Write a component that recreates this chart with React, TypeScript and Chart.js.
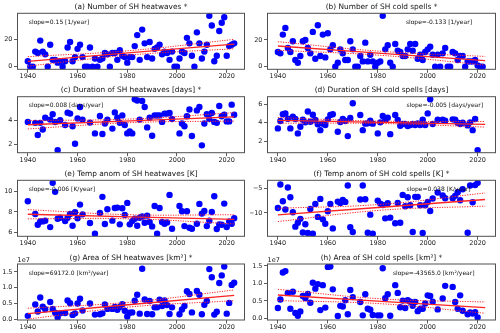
import React, { useEffect, useRef } from 'react';
import { Chart, registerables } from 'chart.js';
Chart.register(...registerables);

const years = [
  1940, 1941, 1942, 1943, 1944, 1945, 1946, 1947, 1948, 1949,
  1950, 1951, 1952, 1953, 1954, 1955, 1956, 1957, 1958, 1959,
  1960, 1961, 1962, 1963, 1964, 1965, 1966, 1967, 1968, 1969,
  1970, 1971, 1972, 1973, 1974, 1975, 1976, 1977, 1978, 1979,
  1980, 1981, 1982, 1983, 1984, 1985, 1986, 1987, 1988, 1989,
  1990, 1991, 1992, 1993, 1994, 1995, 1996, 1997, 1998, 1999,
  2000, 2001, 2002, 2003, 2004, 2005, 2006, 2007, 2008, 2009,
  2010, 2011, 2012, 2013, 2014, 2015, 2016, 2017, 2018, 2019,
  2020, 2021, 2022, 2023,
];
const xTicks = [1940, 1960, 1980, 2000, 2020];
const trendYears = [1940, 1981.5, 2023];

const heatCount = [
  4, 0, 0, 11, 10, 19, 11, 9, 0, 16,
  5, 5, 3, 4, 0, 4, 14, 18, 4, 7,
  13, 16, 7, 0, 0, 14, 0, 6, 0, 5,
  6, 10, 9, 0, 10, 10, 5, 12, 8, 7,
  3, 7, 7, 15, 23, 5, 27, 17, 7, 18,
  6, 13, 14, 16, 9, 11, 10, 5, 11, 0,
  0, 6, 11, 10, 21, 17, 8, 0, 25, 17,
  6, 11, 16, 37, 30, 4, 8, 26, 32, 36,
  8, 15, 16, 17,
];
const coldCount = [
  11, 10, 24, 29, 14, 11, 19, 5, 3, 8,
  19, 20, 14, 10, 26, 6, 31, 8, 24, 7,
  25, 13, 16, 0, 3, 13, 10, 5, 5, 19,
  13, 0, 0, 8, 4, 18, 4, 9, 4, 0,
  3, 4, 38, 13, 16, 3, 0, 17, 12, 11,
  8, 8, 13, 17, 12, 17, 6, 9, 5, 11,
  13, 15, 9, 0, 9, 0, 10, 14, 0, 0,
  11, 10, 5, 8, 8, 0, 4, 4, 4, 5,
  1, 0, 0, null,
];
const heatDuration = [
  3.86, null, null, 3.78, 2.77, 3.78, 3.23, 4.2, null, 4.05,
  4.5, 3.85, 1.5, 4.0, null, 3.6, 4.63, 4.55, 3.5, 2.03,
  4.15, 5.1, 4.05, null, null, 3.8, null, 2.9, null, 4.35,
  2.85, 3.73, 4.05, null, 3.3, 4.65, 4.2, 3.78, 4.4, 3.6,
  2.9, 3.07, 2.9, 5.75, 5.65, 4.05, 5.6, 5.1, 3.4, 4.2,
  2.7, 4.4, 4.4, 4.4, 3.86, 4.55, 4.55, 4.6, 4.1, null,
  null, 2.9, 3.73, 3.5, 4.33, 4.9, 2.68, null, 4.82, 5.1,
  1.9, 3.73, 4.5, 4.1, 4.6, 3.86, 3.78, 5.18, 4.33, 4.45,
  3.9, 3.9, 5.3, 4.45,
];
const coldDuration = [
  3.39, 4.18, 4.9, 5.0, 4.43, 3.39, 4.65, 4.4, 2.85, 3.57,
  4.32, 4.04, 5.2, 4.1, 4.86, 4.29, 3.82, 3.2, 3.9, 3.75,
  4.36, 4.83, 4.9, null, 3.03, 4.07, 4.4, 4.18, 2.56, 4.5,
  6.09, null, null, 4.83, 3.2, 3.9, 3.93, 4.22, 3.9, null,
  2.85, 4.04, 4.72, 4.29, 4.54, 2.77, null, 4.83, 4.29, 3.68,
  3.86, 3.86, 3.64, 3.75, 3.86, 3.75, 3.93, 3.75, 4.32, 3.75,
  5.0, 6.52, 3.86, null, 4.32, null, 4.32, 4.22, null, null,
  4.36, 4.32, 4.0, 3.86, 4.0, null, 3.71, 4.04, 3.2, 4.4,
  1.05, null, null, null,
];
const heatTemp = [
  9.05, null, null, 7.8, 6.75, 7.08, 7.08, 7.15, null, 6.52,
  10.85, 9.97, 7.34, 7.44, null, 7.11, 7.44, 7.8, 6.66, 7.97,
  7.38, 8.72, 7.77, null, null, 6.92, null, 5.87, null, 7.9,
  9.48, 6.82, 8.26, null, 7.15, 8.39, 8.43, 6.79, 8.36, 7.7,
  8.89, 6.79, 7.11, 7.34, 6.66, 7.44, 7.57, 6.95, 7.64, 7.02,
  6.59, 8.59, 5.87, 8.39, 7.02, 6.85, 6.98, 9.67, 6.36, null,
  null, 8.59, 8.07, 6.62, 8.07, 6.46, 6.36, null, 6.85, 8.79,
  7.84, 8.1, 6.62, 7.15, 8.0, 9.54, 6.33, 6.79, 6.75, 8.82,
  6.52, 7.08, 6.85, 7.38,
];
const coldTemp = [
  -8.97, -4.18, -7.6, -9.3, -4.8, -6.78, -9.86, -12.8, -12.0, -11.2,
  -14.0, -12.3, -14.1, -9.18, -14.25, -8.15, -10.8, -7.12, -11.3, -12.2,
  -9.66, -8.15, -13.15, null, -7.67, -7.95, -7.33, -7.74, -4.38, -12.9,
  -13.9, null, null, -7.26, -4.38, -7.19, -14.04, -10.34, -14.25, null,
  -7.47, -8.08, -8.36, -11.1, -8.0, -10.96, null, -12.1, -7.95, -12.0,
  -6.3, -8.63, -6.78, -8.42, -13.9, -6.7, -6.7, -8.42, -14.1, -8.42,
  -7.74, -9.6, -7.05, null, -5.82, null, -6.44, -6.99, null, null,
  -6.99, -6.5, -5.75, -7.4, -5.14, null, -14.04, -4.38, -7.8, -4.3,
  -3.84, null, null, null,
];
// areas in units of 1e7 km²
const heatArea = [
  0.11, null, null, 0.47, 0.25, 0.69, 0.4, 0.32, null, 0.55,
  0.33, 0.21, 0.06, 0.19, null, 0.2, 0.6, 0.51, 0.14, 0.19,
  0.5, 0.65, 0.28, null, null, 0.5, null, 0.15, null, 0.16,
  0.19, 0.47, 0.33, null, 0.33, 0.39, 0.3, 0.39, 0.48, 0.27,
  0.09, 0.21, 0.22, 0.59, 0.78, 0.18, 1.6, 0.63, 0.17, 0.58,
  0.16, 0.38, 0.38, 0.62, 0.42, 0.6, 0.45, 0.17, 0.38, null,
  null, 0.16, 0.31, 0.42, 0.89, 0.8, 0.22, null, 0.9, 0.78,
  0.16, 0.46, 0.58, 1.59, 1.33, 0.15, 0.24, 1.15, 1.39, 1.67,
  0.18, 0.52, 1.09, 1.16,
];
const coldArea = [
  0.3, 0.54, 1.31, 1.35, 0.73, 0.28, 0.76, 0.16, 0.08, 0.2,
  0.64, 0.58, 0.7, 0.45, 1.02, 0.85, 0.98, 0.24, 0.95, 0.31,
  1.47, 1.48, 0.83, null, 0.07, 0.36, 0.34, 0.52, 0.12, 0.81,
  0.61, null, null, 0.47, 0.09, 0.69, 0.28, 0.25, 0.1, null,
  0.09, 0.09, 1.43, 0.58, 0.69, 0.08, null, 0.95, 0.73, 0.32,
  0.51, 0.3, 0.52, 0.48, 0.36, 0.47, 0.21, 0.28, 0.28, 0.43,
  0.66, 0.64, 0.48, null, 0.26, null, 0.57, 0.93, null, null,
  0.9, 0.47, 0.28, 0.66, 0.22, null, 0.12, 0.17, 0.14, 0.18,
  0.03, null, null, null,
];

// trend line and confidence bounds at trendYears
const fitA = [3.9, 10.2, 16.5], upA = [7.3, 11.8, 19.9], loA = [0.5, 8.6, 13.1];
const fitB = [15.5, 10.0, 4.5], upB = [18.7, 11.5, 7.7], loB = [12.3, 8.5, 1.3];
const fitC = [3.62, 3.95, 4.28], upC = [3.97, 4.1, 4.63], loC = [3.27, 3.8, 3.93];
const fitD = [4.25, 4.04, 3.83], upD = [4.55, 4.17, 4.13], loD = [3.95, 3.91, 3.53];
const fitE = [7.78, 7.53, 7.28], upE = [8.23, 7.73, 7.73], loE = [7.33, 7.33, 6.83];
const fitF = [-10.4, -8.83, -7.25], upF = [-9.05, -8.23, -5.9], loF = [-11.75, -9.43, -8.6];
const fitG = [0.18, 0.47, 0.76], upG = [0.35, 0.545, 0.93], loG = [0.01, 0.395, 0.59];
const fitH = [0.67, 0.49, 0.31], upH = [0.83, 0.56, 0.47], loH = [0.51, 0.42, 0.15];

const ticksA = [0, 20];
const ticksC = [2, 4];
const ticksD = [2, 4, 6];
const ticksE = [6, 8, 10];
const ticksF = [-10, -5];
const ticksArea = [0, 0.5, 1.0, 1.5];

type Spec = {
  title: string; values: (number | null)[]; yTicks: number[]; decimals: number;
  slope: string; slopeX: number; fit: number[]; up: number[]; lo: number[];
  offset?: string; col: number; row: number;
};

const panels: Spec[] = [
  { title: '(a) Number of SH heatwaves *', values: heatCount, yTicks: ticksA, decimals: 0, slope: 'slope=0.15 [1/year]', slopeX: 0.05, fit: fitA, up: upA, lo: loA, col: 0, row: 0 },
  { title: '(b) Number of SH cold spells *', values: coldCount, yTicks: ticksA, decimals: 0, slope: 'slope=-0.133 [1/year]', slopeX: 0.607, fit: fitB, up: upB, lo: loB, col: 1, row: 0 },
  { title: '(c) Duration of SH heatwaves [days] *', values: heatDuration, yTicks: ticksC, decimals: 0, slope: 'slope=0.008 [days/year]', slopeX: 0.05, fit: fitC, up: upC, lo: loC, col: 0, row: 1 },
  { title: '(d) Duration of SH cold spells [days]', values: coldDuration, yTicks: ticksD, decimals: 0, slope: 'slope=-0.005 [days/year]', slopeX: 0.61, fit: fitD, up: upD, lo: loD, col: 1, row: 1 },
  { title: '(e) Temp anom of SH heatwaves [K]', values: heatTemp, yTicks: ticksE, decimals: 0, slope: 'slope=-0.006 [K/year]', slopeX: 0.05, fit: fitE, up: upE, lo: loE, col: 0, row: 2 },
  { title: '(f) Temp anom of SH cold spells [K] *', values: coldTemp, yTicks: ticksF, decimals: 0, slope: 'slope=0.038 [K/year]', slopeX: 0.61, fit: fitF, up: upF, lo: loF, col: 1, row: 2 },
  { title: '(g) Area of SH heatwaves [km²] *', values: heatArea, yTicks: ticksArea, decimals: 1, slope: 'slope=69172.0 [km²/year]', slopeX: 0.05, fit: fitG, up: upG, lo: loG, offset: '1e7', col: 0, row: 3 },
  { title: '(h) Area of SH cold spells [km²] *', values: coldArea, yTicks: ticksArea, decimals: 1, slope: 'slope=-43565.0 [km²/year]', slopeX: 0.55, fit: fitH, up: upH, lo: loH, offset: '1e7', col: 1, row: 3 },
];

const boxTops = [13.3, 96.7, 180.3, 264];
const canvasTops = [0, 83, 167, 250];
const canvasHeights = [83, 84, 83, 83];
const BOX_H = 56;
const FONT = 'DejaVu Sans';

function Panel({ p }: { p: Spec }) {
  const ref = useRef<HTMLCanvasElement>(null);
  useEffect(() => {
    const h = canvasHeights[p.row];
    const padTop = boxTops[p.row] - canvasTops[p.row];
    const xAxisH = h - padTop - BOX_H;
    const pts = years
      .map((yr, i) => ({ x: yr, y: p.values[i] }))
      .filter((d) => d.y !== null) as { x: number; y: number }[];
    const vals = pts.map((d) => d.y);
    const lo = Math.min(...vals), hi = Math.max(...vals);
    const ym = (hi - lo) * 0.05;
    const x0 = years[0], x1 = years[years.length - 1];
    const xm = (x1 - x0) * 0.05;
    const line = (arr: number[]) => trendYears.map((x, i) => ({ x, y: arr[i] }));
    const red = '#ff2424';
    const tickFont = { family: FONT, size: 6.5 };
    const fmt = (v: number) => {
      const s = Math.abs(v).toFixed(p.decimals);
      return v < 0 ? '\u2212' + s : s;
    };
    const deco = {
      id: 'deco',
      afterDraw(chart: any) {
        const { ctx, chartArea: a } = chart;
        ctx.save();
        ctx.strokeStyle = '#505050';
        ctx.lineWidth = 1;
        ctx.strokeRect(a.left, a.top, a.right - a.left, a.bottom - a.top);
        ctx.fillStyle = '#111';
        ctx.font = `7.4px "${FONT}"`;
        ctx.textAlign = 'center';
        ctx.textBaseline = 'middle';
        ctx.fillText(p.title, (a.left + a.right) / 2, a.top - 6.3);
        ctx.font = `6px "${FONT}"`;
        ctx.textAlign = 'left';
        ctx.fillText(p.slope, a.left + p.slopeX * (a.right - a.left), a.top + 0.16 * (a.bottom - a.top));
        if (p.offset) {
          ctx.font = `6.5px "${FONT}"`;
          ctx.textBaseline = 'alphabetic';
          ctx.fillText(p.offset, a.left, a.top - 2);
        }
        ctx.restore();
      },
    };
    const chart = new Chart(ref.current!, {
      type: 'scatter',
      data: {
        datasets: [
          { data: line(p.fit), showLine: true, borderColor: red, borderWidth: 1.3, pointRadius: 0, tension: 0 },
          { data: line(p.up), showLine: true, borderColor: red, borderWidth: 1, borderDash: [1.2, 1.3], pointRadius: 0, tension: 0.4 },
          { data: line(p.lo), showLine: true, borderColor: red, borderWidth: 1, borderDash: [1.2, 1.3], pointRadius: 0, tension: 0.4 },
          { data: pts, backgroundColor: '#0000ff', borderWidth: 0, pointRadius: 3.2 },
        ],
      },
      options: {
        animation: false,
        responsive: false,
        events: [],
        layout: { padding: { top: padTop, right: p.col === 0 ? 5.5 : 4.5, bottom: 0, left: 0 } },
        plugins: { legend: { display: false }, tooltip: { enabled: false }, title: { display: false } },
        scales: {
          x: {
            type: 'linear',
            min: x0 - xm,
            max: x1 + xm,
            afterBuildTicks: (s: any) => { s.ticks = xTicks.map((v) => ({ value: v })); },
            afterFit: (s: any) => { s.height = xAxisH; },
            ticks: { font: tickFont, color: '#222', padding: 0, maxRotation: 0, autoSkip: false, callback: (v: any) => String(v) },
            grid: { drawOnChartArea: false, drawTicks: true, tickLength: 3.5, color: '#333', lineWidth: 0.8 },
            border: { display: false },
          },
          y: {
            type: 'linear',
            min: lo - ym,
            max: hi + ym,
            afterBuildTicks: (s: any) => { s.ticks = p.yTicks.map((v) => ({ value: v })); },
            afterFit: (s: any) => { s.width = 17.5; },
            ticks: { font: tickFont, color: '#222', padding: 1.5, autoSkip: false, callback: (v: any) => fmt(Number(v)) },
            grid: { drawOnChartArea: false, drawTicks: true, tickLength: 3.5, color: '#333', lineWidth: 0.8 },
            border: { display: false },
          },
        },
      },
      plugins: [deco],
    } as any);
    return () => chart.destroy();
  }, [p]);
  const h = canvasHeights[p.row];
  return (
    <canvas
      ref={ref}
      width={250}
      height={h}
      style={{ position: 'absolute', left: p.col * 250, top: canvasTops[p.row], width: 250, height: h, display: 'block' }}
    />
  );
}

export default function App() {
  return (
    <div style={{ position: 'absolute', left: 0, top: 0, width: 500, height: 333, background: '#fff', overflow: 'hidden' }}>
      {panels.map((p, i) => (
        <Panel key={i} p={p} />
      ))}
    </div>
  );
}
